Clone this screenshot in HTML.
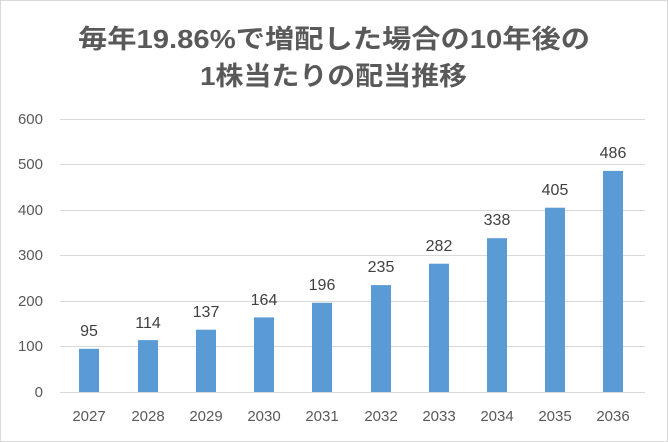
<!DOCTYPE html>
<html><head><meta charset="utf-8"><style>
body{margin:0;background:#fff;}
svg{display:block;font-family:"Liberation Sans","Noto Sans CJK JP",sans-serif;}
</style></head><body>
<svg width="668" height="442" viewBox="0 0 668 442">
<rect x="0.5" y="0.5" width="667" height="441" fill="#fff" stroke="#d9d9d9"/>
<text x="78" y="48" font-size="26" font-weight="bold" fill="#595959" textLength="512" lengthAdjust="spacingAndGlyphs">毎年19.86%で増配した場合の10年後の</text>
<text x="200" y="85" font-size="26" font-weight="bold" fill="#595959" textLength="267" lengthAdjust="spacingAndGlyphs">1株当たりの配当推移</text>
<g stroke="#d9d9d9" stroke-width="1">
<line x1="60" x2="645" y1="119.5" y2="119.5"/>
<line x1="60" x2="645" y1="164.5" y2="164.5"/>
<line x1="60" x2="645" y1="210.5" y2="210.5"/>
<line x1="60" x2="645" y1="255.5" y2="255.5"/>
<line x1="60" x2="645" y1="301.5" y2="301.5"/>
<line x1="60" x2="645" y1="346.5" y2="346.5"/>
<line x1="60" x2="645" y1="392.5" y2="392.5"/>
</g>
<g font-size="15" fill="#595959" text-anchor="end">
<text x="43" y="124">600</text><text x="43" y="169">500</text><text x="43" y="215">400</text>
<text x="43" y="260">300</text><text x="43" y="306">200</text><text x="43" y="351">100</text><text x="43" y="397">0</text>
</g>
<g fill="#5b9bd5">
<rect x="79" y="348.8" width="20" height="43.2"/>
<rect x="138" y="340.1" width="20" height="51.9"/>
<rect x="196" y="329.7" width="20" height="62.3"/>
<rect x="254" y="317.4" width="20" height="74.6"/>
<rect x="312" y="302.8" width="20" height="89.2"/>
<rect x="371" y="285.1" width="20" height="106.9"/>
<rect x="429" y="263.7" width="20" height="128.3"/>
<rect x="487" y="238.2" width="20" height="153.8"/>
<rect x="545" y="207.7" width="20" height="184.3"/>
<rect x="603" y="170.9" width="20" height="221.1"/>
</g>
<g font-size="16" fill="#404040" text-anchor="middle">
<text x="89" y="336">95</text><text x="148" y="328">114</text><text x="206" y="317">137</text>
<text x="264" y="305">164</text><text x="322" y="290">196</text><text x="381" y="272">235</text>
<text x="439" y="251">282</text><text x="497" y="225">338</text><text x="555" y="195">405</text>
<text x="613" y="158">486</text>
</g>
<g font-size="15" fill="#595959" text-anchor="middle">
<text x="89" y="421">2027</text><text x="148" y="421">2028</text><text x="206" y="421">2029</text>
<text x="264" y="421">2030</text><text x="322" y="421">2031</text><text x="381" y="421">2032</text>
<text x="439" y="421">2033</text><text x="497" y="421">2034</text><text x="555" y="421">2035</text>
<text x="613" y="421">2036</text>
</g>
</svg>
</body></html>
